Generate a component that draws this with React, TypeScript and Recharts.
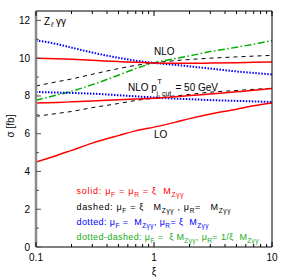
import React from 'react';
import { LineChart, Line, XAxis, YAxis } from 'recharts';

const xi = [0.1, 0.15, 0.2, 0.3, 0.5, 0.7, 1, 1.5, 2, 3, 5, 7, 10];

// NLO
const solidNlo = [10.0, 9.97, 9.94, 9.89, 9.82, 9.78, 9.75, 9.73, 9.73, 9.74, 9.76, 9.78, 9.8];
const dashedNlo = [8.53, 8.75, 8.9, 9.15, 9.45, 9.62, 9.75, 9.87, 9.93, 10.0, 10.07, 10.11, 10.15];
const dottedNlo = [10.94, 10.75, 10.56, 10.3, 10.02, 9.87, 9.75, 9.65, 9.57, 9.45, 9.3, 9.22, 9.14];
const dashDotNlo = [7.77, 8.05, 8.25, 8.6, 9.1, 9.45, 9.75, 9.98, 10.12, 10.35, 10.58, 10.74, 10.94];

// NLO with pT jet cut
const solidCut = [7.63, 7.66, 7.69, 7.73, 7.8, 7.84, 7.88, 7.96, 8.02, 8.1, 8.22, 8.3, 8.39];
const dashedCut = [6.92, 7.07, 7.18, 7.38, 7.6, 7.76, 7.88, 8.0, 8.08, 8.2, 8.29, 8.35, 8.41];
const dottedCut = [8.21, 8.18, 8.16, 8.12, 8.04, 7.98, 7.92, 7.86, 7.83, 7.78, 7.74, 7.71, 7.68];

// LO
const solidLo = [4.5, 4.85, 5.12, 5.5, 5.9, 6.15, 6.35, 6.6, 6.8, 7.05, 7.3, 7.48, 7.63];

const xTicks = [0.1, 0.2, 0.3, 0.4, 0.5, 0.6, 0.7, 0.8, 0.9, 1, 2, 3, 4, 5, 6, 7, 8, 9, 10];
const xMajor = [0.1, 1, 10];
const yTicks = [0, 1, 2, 3, 4, 5, 6, 7, 8, 9, 10, 11, 12];

const RED = '#ff0000';
const BLUE = '#0000ff';
const GREEN = '#00b000';
const FONT = '"Liberation Sans", Arial, sans-serif';

const toRows = (ys: number[]) => xi.map((x, i) => ({ x, y: ys[i] }));

const isMajorX = (v: number) => xMajor.some((m) => Math.abs(m - v) < 1e-9);

const BottomTick = (props: any) => {
  const { x, y, payload } = props;
  const major = isMajorX(payload.value);
  return (
    <g>
      <line x1={x} x2={x} y1={y} y2={y - (major ? 5 : 3)} stroke="#000" strokeWidth={1} />
      {major && (
        <text x={x} y={y + 14} textAnchor="middle" fontSize={10} fontFamily={FONT} fill="#000">
          {payload.value}
        </text>
      )}
    </g>
  );
};

const TopTick = (props: any) => {
  const { x, y, payload } = props;
  const major = isMajorX(payload.value);
  return <line x1={x} x2={x} y1={y} y2={y + (major ? 5 : 3)} stroke="#000" strokeWidth={1} />;
};

const LeftTick = (props: any) => {
  const { x, y, payload } = props;
  const major = payload.value % 2 === 0;
  return (
    <g>
      <line x1={x} x2={x + (major ? 5 : 3)} y1={y} y2={y} stroke="#555" strokeWidth={1} />
      {major && (
        <text x={x - 6} y={y + 3.5} textAnchor="end" fontSize={10} fontFamily={FONT} fill="#000">
          {payload.value}
        </text>
      )}
    </g>
  );
};

const RightTick = (props: any) => {
  const { x, y, payload } = props;
  const major = payload.value % 2 === 0;
  return <line x1={x} x2={x - (major ? 5 : 3)} y1={y} y2={y} stroke="#000" strokeWidth={1} />;
};

// legend row, flowing text; a subscript drops by 2.5 and the next piece comes back up
type Part = [string, boolean?];

const Row = ({ y, color, width, parts }: { y: number; color: string; width: number; parts: Part[] }) => {
  let shift = 0;
  const out = parts.map(([t, sub], i) => {
    const dy = sub ? 2.5 - shift : -shift;
    shift = sub ? 2.5 : 0;
    return (
      <tspan key={i} dy={dy || undefined} fontSize={sub ? 6.5 : 9}>
        {t}
      </tspan>
    );
  });
  return (
    <text x={76.5} y={y} fontSize={9} fill={color} xmlSpace="preserve" textLength={width} lengthAdjust="spacing">
      {out}
    </text>
  );
};

export default function App() {
  return (
    <div style={{ position: 'absolute', left: 0, top: 0, width: 289, height: 279, background: '#fff' }}>
      <LineChart width={289} height={279} margin={{ top: 0, right: 0, bottom: 0, left: 0 }}>
        <XAxis
          dataKey="x"
          type="number"
          scale="log"
          domain={[0.1, 10]}
          allowDataOverflow
          ticks={xTicks}
          interval={0}
          height={32}
          tickSize={0}
          tickMargin={0}
          tickLine={false}
          axisLine={{ stroke: '#000', strokeWidth: 1 }}
          tick={<BottomTick />}
        />
        <XAxis
          xAxisId="top"
          orientation="top"
          dataKey="x"
          type="number"
          scale="log"
          domain={[0.1, 10]}
          allowDataOverflow
          ticks={xTicks}
          interval={0}
          height={11}
          tickSize={0}
          tickMargin={0}
          tickLine={false}
          axisLine={{ stroke: '#000', strokeWidth: 1 }}
          tick={<TopTick />}
        />
        <YAxis
          type="number"
          domain={[0, 12.5]}
          ticks={yTicks}
          interval={0}
          width={36}
          tickSize={0}
          tickMargin={0}
          tickLine={false}
          axisLine={{ stroke: '#8a8a8a', strokeWidth: 2.5 }}
          tick={<LeftTick />}
        />
        <YAxis
          yAxisId="right"
          orientation="right"
          type="number"
          domain={[0, 12.5]}
          ticks={yTicks}
          interval={0}
          width={17}
          tickSize={0}
          tickMargin={0}
          tickLine={false}
          axisLine={{ stroke: '#000', strokeWidth: 1 }}
          tick={<RightTick />}
        />

        <Line data={toRows(dashedNlo)} dataKey="y" type="monotone" stroke="#000" strokeWidth={1} strokeDasharray="4 4" dot={false} isAnimationActive={false} />
        <Line data={toRows(dashedCut)} dataKey="y" type="monotone" stroke="#000" strokeWidth={1} strokeDasharray="4 4" dot={false} isAnimationActive={false} />
        <Line data={toRows(dashDotNlo)} dataKey="y" type="monotone" stroke={GREEN} strokeWidth={1.5} strokeDasharray="7 2.5 1.5 2.5" dot={false} isAnimationActive={false} />
        <Line data={toRows(dottedNlo)} dataKey="y" type="monotone" stroke={BLUE} strokeWidth={2} strokeDasharray="1.5 1.5" dot={false} isAnimationActive={false} />
        <Line data={toRows(dottedCut)} dataKey="y" type="monotone" stroke={BLUE} strokeWidth={2} strokeDasharray="1.5 1.5" dot={false} isAnimationActive={false} />
        <Line data={toRows(solidNlo)} dataKey="y" type="monotone" stroke={RED} strokeWidth={1.5} dot={false} isAnimationActive={false} />
        <Line data={toRows(solidCut)} dataKey="y" type="monotone" stroke={RED} strokeWidth={1.5} dot={false} isAnimationActive={false} />
        <Line data={toRows(solidLo)} dataKey="y" type="monotone" stroke={RED} strokeWidth={1.5} dot={false} isAnimationActive={false} />
      </LineChart>

      <svg width={289} height={279} style={{ position: 'absolute', left: 0, top: 0, pointerEvents: 'none' }} fontFamily={FONT}>
        <text fontSize={10} fill="#000">
          <tspan x={44} y={25}>Z</tspan>
          <tspan x={51} y={27} fontSize={7} fontStyle="italic">ℓ</tspan>
          <tspan x={56} y={25}>γγ</tspan>
        </text>
        <text x={154} y={55} fontSize={10} fill="#000">NLO</text>
        <text fontSize={10} fill="#000">
          <tspan x={128} y={91}>NLO p</tspan>
          <tspan x={157.5} y={84} fontSize={7}>T</tspan>
          <tspan x={156.5} y={96} fontSize={7}>j, cut</tspan>
          <tspan x={175.5} y={91}>= 50 GeV</tspan>
        </text>
        <text x={154} y={138} fontSize={10} fill="#000">LO</text>

        <Row
          y={194}
          color={RED}
          width={107}
          parts={[['solid: μ'], ['F', true], [' = μ'], ['R', true], [' = ξ  M'], ['Zγγ', true]]}
        />
        <Row
          y={210}
          color="#000"
          width={154}
          parts={[['dashed: μ'], ['F', true], [' = ξ   M'], ['Zγγ', true], [' , μ'], ['R', true], ['=   M'], ['Zγγ', true]]}
        />
        <Row
          y={225}
          color={BLUE}
          width={132}
          parts={[['dotted: μ'], ['F', true], [' =  M'], ['Zγγ', true], [', μ'], ['R', true], ['= ξ  M'], ['Zγγ', true]]}
        />
        <Row
          y={240}
          color="#22aa22"
          width={182}
          parts={[['dotted-dashed: μ'], ['F', true], [' =  ξ M'], ['Zγγ', true], [', μ'], ['R', true], ['= 1/ξ  M'], ['Zγγ', true]]}
        />

        <text x={14} y={126} fontSize={10} fill="#000" textAnchor="middle" transform="rotate(-90 14 126)">σ [fb]</text>
        <text x={154} y={275} fontSize={10} fill="#000" textAnchor="middle">ξ</text>
      </svg>
    </div>
  );
}
